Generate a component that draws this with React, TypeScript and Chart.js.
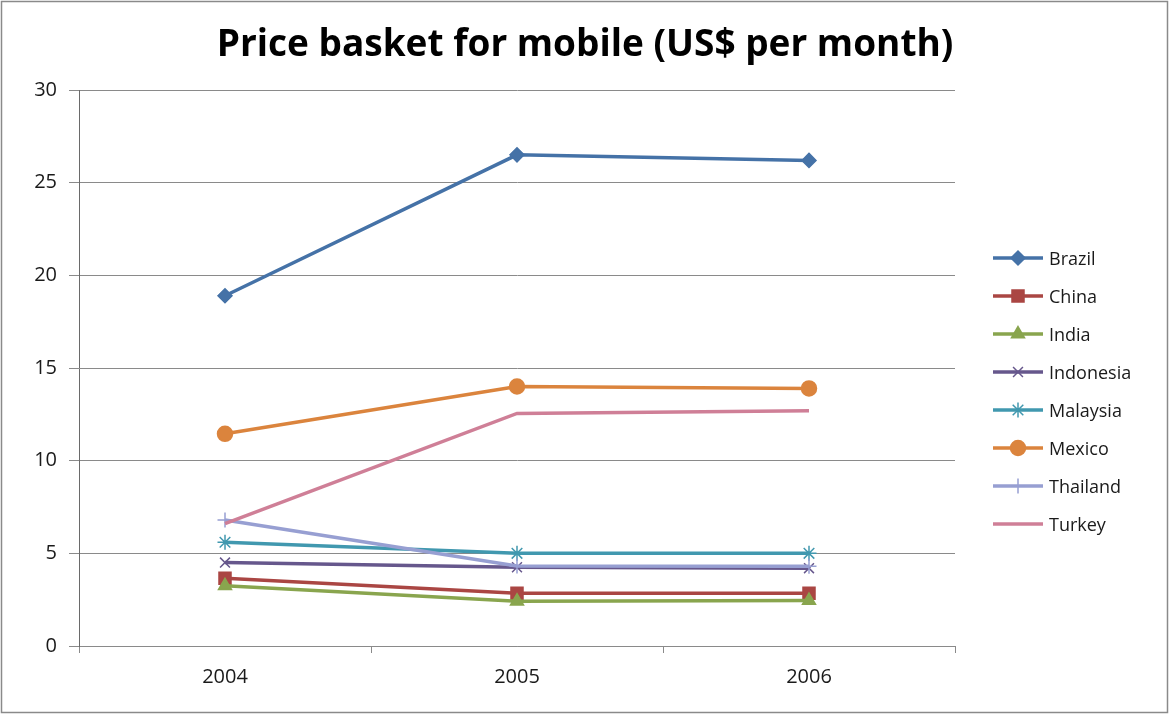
import { useEffect, useRef } from "react";
import { Chart, registerables } from "chart.js";
import { drawPoint } from "chart.js/helpers";

Chart.register(...registerables);

const years = ["2004", "2005", "2006"];
const brazil = [18.9, 26.5, 26.2];
const china = [3.65, 2.85, 2.85];
const india = [3.25, 2.42, 2.45];
const indonesia = [4.5, 4.25, 4.2];
const malaysia = [5.6, 5.0, 5.0];
const mexico = [11.45, 14.0, 13.9];
const thailand = [6.8, 4.32, 4.3];
const turkey = [6.6, 12.55, 12.7];
const seriesNames = ["Brazil", "China", "India", "Indonesia", "Malaysia", "Mexico", "Thailand", "Turkey"];
const yMin = 0;
const yMax = 30;
const yStep = 5;

const seriesValues = [brazil, china, india, indonesia, malaysia, mexico, thailand, turkey];
const colors = ["#4572A7", "#AA4643", "#89A54E", "#66578C", "#4198AF", "#DB843D", "#979FD2", "#CF7F97"];
const pointStyles: any[] = ["rectRot", "rect", "triangle", "crossRot", "star", "circle", "cross", false];
const pointRadii = [7, 8.5, 7.5, 7, 7.5, 7.5, 7.5, 0];

const FONT = "'Open Sans', Lato, sans-serif";

const framePlugin = {
  id: "frame",
  beforeDraw(chart: any) {
    const ctx = chart.ctx;
    ctx.save();
    ctx.fillStyle = "#ffffff";
    ctx.fillRect(0, 0, chart.width, chart.height);
    ctx.strokeStyle = "#8a8a8a";
    ctx.lineWidth = 1.5;
    ctx.strokeRect(1.5, 1.5, chart.width - 4, chart.height - 4);
    ctx.restore();
  },
};

const legendPlugin = {
  id: "sideLegend",
  afterDraw(chart: any) {
    const ctx = chart.ctx;
    const x0 = chart.chartArea.right + 38;
    const top = 258;
    const step = 38;
    chart.data.datasets.forEach((ds: any, i: number) => {
      const y = top + i * step;
      ctx.save();
      ctx.strokeStyle = ds.borderColor;
      ctx.lineWidth = 3.5;
      ctx.beginPath();
      ctx.moveTo(x0, y);
      ctx.lineTo(x0 + 50, y);
      ctx.stroke();
      if (ds.pointStyle) {
        ctx.fillStyle = ds.backgroundColor;
        ctx.strokeStyle = ds.borderColor;
        ctx.lineWidth = 1.5;
        drawPoint(ctx, { pointStyle: ds.pointStyle, radius: ds.pointRadius, borderWidth: 1.5, rotation: 0 }, x0 + 25, y);
      }
      ctx.fillStyle = "#1a1a1a";
      ctx.font = `18px ${FONT}`;
      ctx.textBaseline = "middle";
      ctx.textAlign = "left";
      ctx.fillText(ds.label, x0 + 56, y + 2);
      ctx.restore();
    });
  },
};

export default function App() {
  const ref = useRef<HTMLCanvasElement>(null);
  useEffect(() => {
    if (!ref.current) return;
    const datasets = seriesNames.map((name, i) => ({
      label: name,
      data: seriesValues[i],
      borderColor: colors[i],
      backgroundColor: colors[i],
      borderWidth: 3.5,
      pointStyle: pointStyles[i],
      pointRadius: pointRadii[i],
      pointBorderWidth: 1.5,
      pointHoverRadius: pointRadii[i],
      tension: 0,
      order: seriesNames.length - i,
      yAxisID: "y",
    }));
    const chart = new Chart(ref.current, {
      type: "line",
      data: { labels: years, datasets },
      plugins: [framePlugin, legendPlugin],
      options: {
        responsive: false,
        animation: false,
        layout: { padding: 0 },
        plugins: {
          legend: { display: false },
          tooltip: { enabled: false },
          title: {
            display: true,
            text: "Price basket for mobile (US$ per month)",
            color: "#000000",
            font: { family: FONT, size: 37, weight: "bold" },
            padding: { top: 23, bottom: 22.6 },
          },
        },
        scales: {
          x: {
            type: "category",
            offset: true,
            grid: { display: true, drawOnChartArea: false, drawTicks: true, tickLength: 7, offset: true, color: "#8a8a8a" },
            border: { display: true, color: "#8a8a8a" },
            ticks: { color: "#1a1a1a", font: { family: FONT, size: 20 }, padding: 12 },
            afterFit: (s: any) => { s.height = 69; },
          },
          y: {
            min: yMin,
            max: yMax,
            position: "left",
            grid: { color: "#8a8a8a", tickLength: 10, drawTicks: true },
            border: { display: true, color: "#6a6a6a" },
            ticks: { stepSize: yStep, color: "#1a1a1a", font: { family: FONT, size: 20 }, padding: 12 },
            afterFit: (s: any) => { s.width = 79; },
          },
          yR: {
            type: "linear",
            position: "right",
            display: true,
            grid: { display: false, drawTicks: false },
            border: { display: false },
            ticks: { display: false },
            afterFit: (s: any) => { s.width = 215; },
          },
        },
      } as any,
    });
    return () => chart.destroy();
  }, []);
  return (
    <div style={{ position: "fixed", left: 0, top: 0, width: 1170, height: 715, background: "#fff" }}>
      <canvas ref={ref} width={1170} height={715} />
    </div>
  );
}
